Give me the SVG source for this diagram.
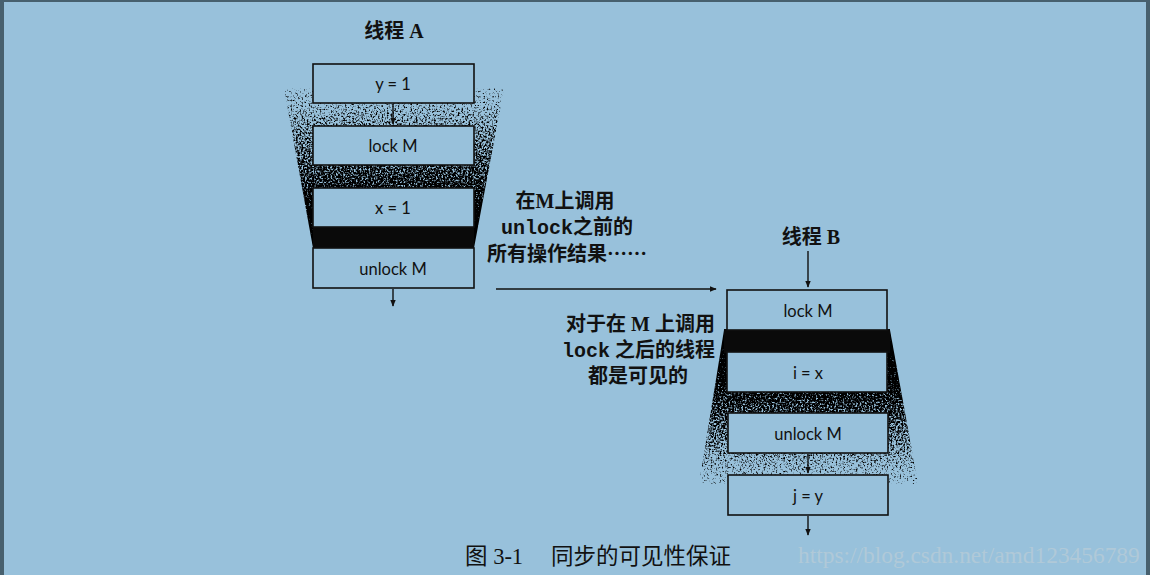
<svg xmlns="http://www.w3.org/2000/svg" width="1150" height="575" viewBox="0 0 1150 575">
<style>
.box{fill:#98c1db;stroke:#111;stroke-width:1.6}
.bt{font-family:Lato,"Open Sans",sans-serif;font-size:16.5px;fill:#111;text-anchor:middle}
.lab{font-family:"Liberation Serif","Noto Sans CJK SC",serif;font-weight:bold;font-size:20px;fill:#111}
.mono{font-family:"Liberation Mono","Noto Sans CJK SC",monospace;font-weight:bold}
.cjk{font-family:"Noto Sans CJK SC",sans-serif}
.cap{font-family:"Liberation Serif","Noto Sans CJK SC",serif;font-size:22.5px;fill:#111}
.ln{stroke:#111;stroke-width:1.4;fill:none}
</style>
<defs>
<marker id="ah" viewBox="0 0 10 10" refX="9" refY="5" markerWidth="7" markerHeight="7" orient="auto" markerUnits="userSpaceOnUse">
<path d="M0,1 L10,5 L0,9 Z" fill="#111"/>
</marker>
<filter id="speckle" x="0" y="0" width="1" height="1" color-interpolation-filters="sRGB">
<feTurbulence type="fractalNoise" baseFrequency="0.55" numOctaves="2" seed="3" result="n"/>
<feColorMatrix in="n" type="matrix" values="0 0 0 0 0  0 0 0 0 0  0 0 0 0 0  1 0 0 0 0" result="na"/>
<feComposite in="SourceGraphic" in2="na" operator="arithmetic" k1="0" k2="4" k3="-4" k4="0.3" result="c"/>
<feColorMatrix in="c" type="matrix" values="0 0 0 0 0  0 0 0 0 0  0 0 0 0 0  0 0 0 1 0"/>
</filter>
<linearGradient id="gA" x1="0" y1="88" x2="0" y2="232" gradientUnits="userSpaceOnUse">
<stop offset="0" stop-color="#000" stop-opacity="0.33"/>
<stop offset="0.3" stop-color="#000" stop-opacity="0.5"/>
<stop offset="0.65" stop-color="#000" stop-opacity="0.66"/>
<stop offset="1" stop-color="#000" stop-opacity="0.9"/>
</linearGradient>
<linearGradient id="gB" x1="0" y1="330" x2="0" y2="484" gradientUnits="userSpaceOnUse">
<stop offset="0" stop-color="#000" stop-opacity="0.95"/>
<stop offset="0.45" stop-color="#000" stop-opacity="0.68"/>
<stop offset="0.75" stop-color="#000" stop-opacity="0.5"/>
<stop offset="1" stop-color="#000" stop-opacity="0.32"/>
</linearGradient>
<clipPath id="cA"><polygon points="284,88 504,88 474,248 313,248"/></clipPath>
<clipPath id="cB"><polygon points="724,330 890,330 918,484 699,484"/></clipPath>
</defs>
<rect x="0" y="0" width="1150" height="575" fill="#47606e"/>
<rect x="4" y="2" width="1142" height="573" fill="#98c1db"/>

<g id="shadeA">
<rect x="280" y="86" width="230" height="166" fill="url(#gA)" filter="url(#speckle)" clip-path="url(#cA)"/>
<rect x="313" y="226" width="161" height="22" fill="#0a0a0a"/>
</g>
<g id="shadeB">
<rect x="695" y="328" width="226" height="158" fill="url(#gB)" filter="url(#speckle)" clip-path="url(#cB)"/>
<rect x="724" y="329" width="166" height="24" fill="#0a0a0a"/>
</g>

<g id="connectors">
<line class="ln" x1="393" y1="104" x2="393" y2="124" marker-end="url(#ah)"/>
<line class="ln" x1="393" y1="289" x2="393" y2="306" marker-end="url(#ah)"/>
<line class="ln" x1="496" y1="289" x2="716" y2="289" marker-end="url(#ah)"/>
<line class="ln" x1="808" y1="251" x2="808" y2="287" marker-end="url(#ah)"/>
<line class="ln" x1="808" y1="454" x2="808" y2="473" marker-end="url(#ah)"/>
<line class="ln" x1="808" y1="516" x2="808" y2="535" marker-end="url(#ah)"/>
</g>

<g id="titleA"><text class="lab" x="394" y="38" text-anchor="middle">线程 A</text></g>
<g id="a1"><rect class="box" x="313" y="64" width="161" height="39"/><text class="bt" x="393" y="90">y = 1</text></g>
<g id="a2"><rect class="box" x="313" y="126" width="161" height="39"/><text class="bt" x="393" y="152">lock M</text></g>
<g id="a3"><rect class="box" x="313" y="188" width="161" height="39"/><text class="bt" x="393" y="214">x = 1</text></g>
<g id="a4"><rect class="box" x="313" y="248" width="161" height="40"/><text class="bt" x="393" y="275">unlock M</text></g>

<g id="titleB"><text class="lab" x="811" y="244" text-anchor="middle">线程 B</text></g>
<g id="b1"><rect class="box" x="727" y="290" width="160" height="40"/><text class="bt" x="808" y="317">lock M</text></g>
<g id="b2"><rect class="box" x="727" y="352" width="160" height="40"/><text class="bt" x="808" y="379">i = x</text></g>
<g id="b3"><rect class="box" x="728" y="413" width="160" height="40"/><text class="bt" x="808" y="440">unlock M</text></g>
<g id="b4"><rect class="box" x="728" y="475" width="160" height="40"/><text class="bt" x="808" y="502">j = y</text></g>

<g id="noteBefore">
<text class="lab" x="565" y="208" text-anchor="middle">在M上调用</text>
<text class="lab" x="567" y="234" text-anchor="middle"><tspan class="mono">unlock</tspan>之前的</text>
<text class="lab" x="567" y="261" text-anchor="middle">所有操作结果<tspan class="cjk">……</tspan></text>
</g>
<g id="noteAfter">
<text class="lab" x="715" y="331" text-anchor="end">对于在 M 上调用</text>
<text class="lab" x="715" y="357" text-anchor="end"><tspan class="mono">lock</tspan> 之后的线程</text>
<text class="lab" x="638" y="383" text-anchor="middle">都是可见的</text>
</g>

<g id="caption">
<text class="cap" x="465" y="564">图 3-1<tspan x="551">同步的可见性保证</tspan></text>
<text x="798" y="563" font-family="Liberation Serif,serif" font-size="23.4" fill="#b0c9d8">https://blog.csdn.net/amd123456789</text>
</g>
</svg>
